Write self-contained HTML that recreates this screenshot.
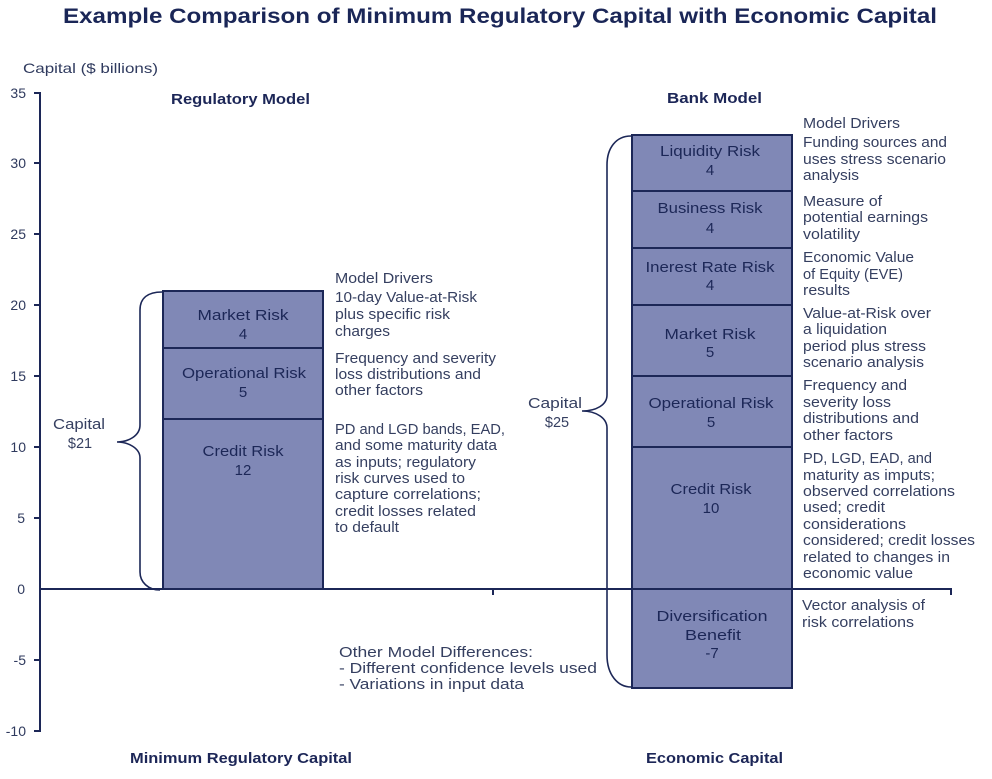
<!DOCTYPE html>
<html>
<head>
<meta charset="utf-8">
<style>
  html,body{margin:0;padding:0;background:#fff;}
  svg{display:block;}
  .t{font-family:"Liberation Sans",Arial,sans-serif;}
  .d{font-family:"Liberation Sans",Arial,sans-serif;font-size:14.5px;fill:#353f60;}
  .b{font-family:"Liberation Sans",Arial,sans-serif;font-size:15px;fill:#1c2757;}
  .h{font-family:"Liberation Sans",Arial,sans-serif;font-size:14.5px;font-weight:bold;fill:#1c2657;}
  .ax{font-family:"Liberation Sans",Arial,sans-serif;font-size:14px;fill:#2f3a5e;}
</style>
</head>
<body>
<svg width="992" height="779" viewBox="0 0 992 779" xmlns="http://www.w3.org/2000/svg">
  <!-- Title -->
  <text class="t" x="63" y="23" font-size="21" font-weight="bold" fill="#1a2657" textLength="874" lengthAdjust="spacingAndGlyphs">Example Comparison of Minimum Regulatory Capital with Economic Capital</text>

  <text class="ax" x="23" y="73" fill="#4a5472" textLength="135" lengthAdjust="spacingAndGlyphs">Capital ($ billions)</text>

  <!-- Y axis -->
  <line x1="40" y1="92" x2="40" y2="732" stroke="#1c2757" stroke-width="2"/>
  <g stroke="#1c2757" stroke-width="2">
    <line x1="34" y1="93" x2="40" y2="93"/>
    <line x1="34" y1="163" x2="40" y2="163"/>
    <line x1="34" y1="234" x2="40" y2="234"/>
    <line x1="34" y1="305" x2="40" y2="305"/>
    <line x1="34" y1="376" x2="40" y2="376"/>
    <line x1="34" y1="447" x2="40" y2="447"/>
    <line x1="34" y1="518" x2="40" y2="518"/>
    <line x1="34" y1="660" x2="40" y2="660"/>
    <line x1="34" y1="731" x2="40" y2="731"/>
  </g>
  <g class="ax" text-anchor="end">
    <text x="26" y="98">35</text>
    <text x="26" y="168">30</text>
    <text x="26" y="239">25</text>
    <text x="26" y="310">20</text>
    <text x="26" y="381">15</text>
    <text x="26" y="452">10</text>
    <text x="25" y="523">5</text>
    <text x="25" y="594">0</text>
    <text x="26" y="665">-5</text>
    <text x="26" y="736">-10</text>
  </g>

  <!-- Headers -->
  <text class="h" x="171" y="104" textLength="139" lengthAdjust="spacingAndGlyphs">Regulatory Model</text>
  <text class="h" x="667" y="103" textLength="95" lengthAdjust="spacingAndGlyphs">Bank Model</text>
  <text class="h" x="130" y="763" textLength="222" lengthAdjust="spacingAndGlyphs">Minimum Regulatory Capital</text>
  <text class="h" x="646" y="763" textLength="137" lengthAdjust="spacingAndGlyphs">Economic Capital</text>

  <!-- Left bar -->
  <rect x="163" y="291" width="160" height="298" fill="#8088b6" stroke="#1c2757" stroke-width="2"/>
  <line x1="163" y1="348" x2="323" y2="348" stroke="#1c2757" stroke-width="2"/>
  <line x1="163" y1="419" x2="323" y2="419" stroke="#1c2757" stroke-width="2"/>
  <g class="b" text-anchor="middle">
    <text x="243" y="320" textLength="91" lengthAdjust="spacingAndGlyphs">Market Risk</text>
    <text x="243" y="339">4</text>
    <text x="244" y="378" textLength="124" lengthAdjust="spacingAndGlyphs">Operational Risk</text>
    <text x="243" y="397">5</text>
    <text x="243" y="456" textLength="81" lengthAdjust="spacingAndGlyphs">Credit Risk</text>
    <text x="243" y="475">12</text>
  </g>

  <!-- Right bar -->
  <rect x="632" y="135" width="160" height="553" fill="#8088b6" stroke="#1c2757" stroke-width="2"/>
  <g stroke="#1c2757" stroke-width="2">
    <line x1="632" y1="191" x2="792" y2="191"/>
    <line x1="632" y1="248" x2="792" y2="248"/>
    <line x1="632" y1="305" x2="792" y2="305"/>
    <line x1="632" y1="376" x2="792" y2="376"/>
    <line x1="632" y1="447" x2="792" y2="447"/>
  </g>
  <g class="b" text-anchor="middle">
    <text x="710" y="156" textLength="100" lengthAdjust="spacingAndGlyphs">Liquidity Risk</text>
    <text x="710" y="175">4</text>
    <text x="710" y="213" textLength="105" lengthAdjust="spacingAndGlyphs">Business Risk</text>
    <text x="710" y="233">4</text>
    <text x="710" y="272" textLength="129" lengthAdjust="spacingAndGlyphs">Inerest Rate Risk</text>
    <text x="710" y="290">4</text>
    <text x="710" y="339" textLength="91" lengthAdjust="spacingAndGlyphs">Market Risk</text>
    <text x="710" y="357">5</text>
    <text x="711" y="408" textLength="125" lengthAdjust="spacingAndGlyphs">Operational Risk</text>
    <text x="711" y="427">5</text>
    <text x="711" y="494" textLength="81" lengthAdjust="spacingAndGlyphs">Credit Risk</text>
    <text x="711" y="513">10</text>
    <text x="712" y="621" textLength="111" lengthAdjust="spacingAndGlyphs">Diversification</text>
    <text x="713" y="640" textLength="56" lengthAdjust="spacingAndGlyphs">Benefit</text>
    <text x="712" y="658">-7</text>
  </g>

  <!-- X axis -->
  <line x1="40" y1="589" x2="952" y2="589" stroke="#1c2757" stroke-width="2"/>
  <line x1="493" y1="589" x2="493" y2="595" stroke="#1c2757" stroke-width="2"/>
  <line x1="951" y1="589" x2="951" y2="595" stroke="#1c2757" stroke-width="2"/>

  <!-- Braces -->
  <path d="M162,292 C148,292 140,298 140,310 L140,425 C140,436 128,442 117,442 C128,442 140,448 140,458 L140,572 C140,582 148,590 160,590" fill="none" stroke="#1c2757" stroke-width="1.6"/>
  <path d="M631,136 C616,136 607,148 607,165 L607,395 C607,405 596,411 582,411 C596,411 607,418 607,428 L607,655 C607,675 618,687 631,687" fill="none" stroke="#1c2757" stroke-width="1.6"/>

  <!-- Capital labels -->
  <g class="d" text-anchor="middle">
    <text x="79" y="429" textLength="52" lengthAdjust="spacingAndGlyphs">Capital</text>
    <text x="80" y="448">$21</text>
    <text x="555" y="408" textLength="54" lengthAdjust="spacingAndGlyphs">Capital</text>
    <text x="557" y="427">$25</text>
  </g>

  <!-- Left descriptions -->
  <g class="d">
    <text x="335" y="283" textLength="98" lengthAdjust="spacingAndGlyphs">Model Drivers</text>
    <text x="335" y="302" textLength="142" lengthAdjust="spacingAndGlyphs">10-day Value-at-Risk</text>
    <text x="335" y="319" textLength="115" lengthAdjust="spacingAndGlyphs">plus specific risk</text>
    <text x="335" y="336" textLength="55" lengthAdjust="spacingAndGlyphs">charges</text>
    <text x="335" y="363" textLength="161" lengthAdjust="spacingAndGlyphs">Frequency and severity</text>
    <text x="335" y="379" textLength="146" lengthAdjust="spacingAndGlyphs">loss distributions and</text>
    <text x="335" y="395" textLength="88" lengthAdjust="spacingAndGlyphs">other factors</text>
    <text x="335" y="434" textLength="170" lengthAdjust="spacingAndGlyphs">PD and LGD bands, EAD,</text>
    <text x="335" y="450" textLength="162" lengthAdjust="spacingAndGlyphs">and some maturity data</text>
    <text x="335" y="467" textLength="141" lengthAdjust="spacingAndGlyphs">as inputs; regulatory</text>
    <text x="335" y="483" textLength="130" lengthAdjust="spacingAndGlyphs">risk curves used to</text>
    <text x="335" y="499" textLength="146" lengthAdjust="spacingAndGlyphs">capture correlations;</text>
    <text x="335" y="516" textLength="141" lengthAdjust="spacingAndGlyphs">credit losses related</text>
    <text x="335" y="532" textLength="64" lengthAdjust="spacingAndGlyphs">to default</text>
  </g>

  <!-- Right descriptions -->
  <g class="d">
    <text x="803" y="128" textLength="97" lengthAdjust="spacingAndGlyphs">Model Drivers</text>
    <text x="803" y="147" textLength="144" lengthAdjust="spacingAndGlyphs">Funding sources and</text>
    <text x="803" y="164" textLength="143" lengthAdjust="spacingAndGlyphs">uses stress scenario</text>
    <text x="803" y="180" textLength="56" lengthAdjust="spacingAndGlyphs">analysis</text>
    <text x="803" y="206" textLength="79" lengthAdjust="spacingAndGlyphs">Measure of</text>
    <text x="803" y="222" textLength="125" lengthAdjust="spacingAndGlyphs">potential earnings</text>
    <text x="803" y="239" textLength="57" lengthAdjust="spacingAndGlyphs">volatility</text>
    <text x="803" y="262" textLength="111" lengthAdjust="spacingAndGlyphs">Economic Value</text>
    <text x="803" y="279" textLength="100" lengthAdjust="spacingAndGlyphs">of Equity (EVE)</text>
    <text x="803" y="295" textLength="47" lengthAdjust="spacingAndGlyphs">results</text>
    <text x="803" y="318" textLength="128" lengthAdjust="spacingAndGlyphs">Value-at-Risk over</text>
    <text x="803" y="334" textLength="84" lengthAdjust="spacingAndGlyphs">a liquidation</text>
    <text x="803" y="351" textLength="123" lengthAdjust="spacingAndGlyphs">period plus stress</text>
    <text x="803" y="367" textLength="121" lengthAdjust="spacingAndGlyphs">scenario analysis</text>
    <text x="803" y="390" textLength="104" lengthAdjust="spacingAndGlyphs">Frequency and</text>
    <text x="803" y="407" textLength="88" lengthAdjust="spacingAndGlyphs">severity loss</text>
    <text x="803" y="423" textLength="116" lengthAdjust="spacingAndGlyphs">distributions and</text>
    <text x="803" y="440" textLength="90" lengthAdjust="spacingAndGlyphs">other factors</text>
    <text x="803" y="463" textLength="129" lengthAdjust="spacingAndGlyphs">PD, LGD, EAD, and</text>
    <text x="803" y="480" textLength="132" lengthAdjust="spacingAndGlyphs">maturity as imputs;</text>
    <text x="803" y="496" textLength="152" lengthAdjust="spacingAndGlyphs">observed correlations</text>
    <text x="803" y="512" textLength="82" lengthAdjust="spacingAndGlyphs">used; credit</text>
    <text x="803" y="529" textLength="103" lengthAdjust="spacingAndGlyphs">considerations</text>
    <text x="803" y="545" textLength="172" lengthAdjust="spacingAndGlyphs">considered; credit losses</text>
    <text x="803" y="562" textLength="147" lengthAdjust="spacingAndGlyphs">related to changes in</text>
    <text x="803" y="578" textLength="110" lengthAdjust="spacingAndGlyphs">economic value</text>
    <text x="802" y="610" textLength="123" lengthAdjust="spacingAndGlyphs">Vector analysis of</text>
    <text x="802" y="627" textLength="112" lengthAdjust="spacingAndGlyphs">risk correlations</text>
  </g>

  <!-- Other model differences -->
  <g class="d">
    <text x="339" y="657" textLength="194" lengthAdjust="spacingAndGlyphs">Other Model Differences:</text>
    <text x="339" y="673" textLength="258" lengthAdjust="spacingAndGlyphs">- Different confidence levels used</text>
    <text x="339" y="689" textLength="185" lengthAdjust="spacingAndGlyphs">- Variations in input data</text>
  </g>
</svg>
</body>
</html>
